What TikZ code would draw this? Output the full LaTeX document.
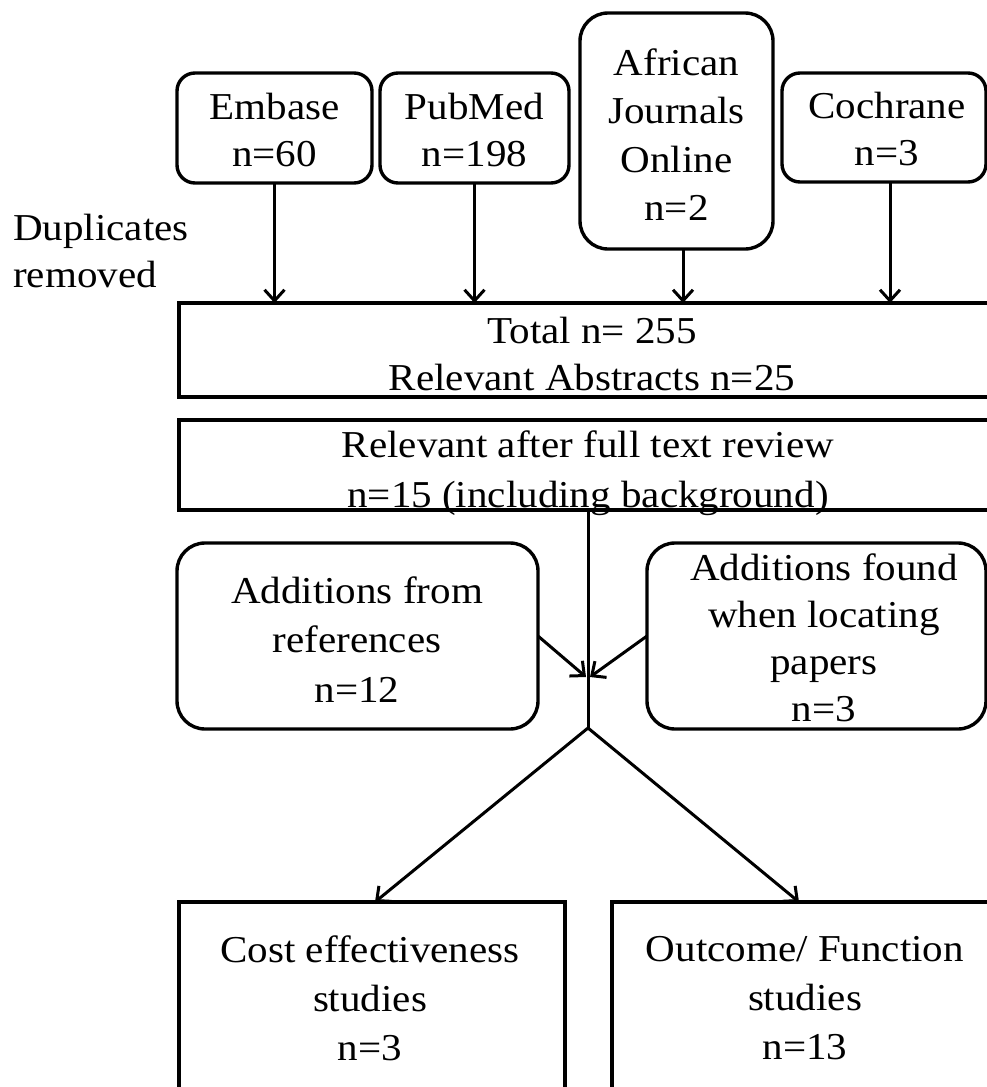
\documentclass[tikz,border=0pt]{standalone}
\usepackage{fontspec}
\setmainfont{Liberation Serif}[FakeStretch=1.08]
\usetikzlibrary{arrows.meta}
\begin{document}
\begin{tikzpicture}[x=1pt,y=-1pt,
  sqbox/.style={draw=black, line width=3.4pt, inner sep=0pt, outer sep=0pt},
  rbox/.style={sqbox, rounded corners=18pt},
  rboxbig/.style={sqbox, rounded corners=28pt},
  txt/.style={align=center, inner sep=0pt, font=\fontsize{38}{47}\selectfont},
  conn/.style={draw=black, line width=3pt},
  arr/.style={conn, -{Straight Barb[length=11pt,width=20pt]}}
]
\clip (0,0) rectangle (987,1087);

% source boxes
\node[rbox, minimum width=195pt, minimum height=110pt] (embase) at (274.5,128) {};
\node[txt] (embaseT) at (274.5,130) {Embase\\n=60};
\node[rbox, minimum width=189pt, minimum height=110pt] (pubmed) at (474.5,128) {};
\node[txt] (pubmedT) at (474.5,130) {PubMed\\n=198};
\node[rboxbig, minimum width=193pt, minimum height=236pt] (african) at (676.5,131) {};
\node[txt, font=\fontsize{38}{48.5}\selectfont] (africanT) at (676.5,134.5) {African\\Journals\\Online\\n=2};
\node[rbox, minimum width=204pt, minimum height=109pt] (cochrane) at (884,127.5) {};
\node[txt] (cochraneT) at (887,129) {Cochrane\\n=3};

\node[txt, align=left, anchor=west] (dup) at (13,251) {Duplicates\\removed};

% total / relevant
\node[sqbox, minimum width=818pt, minimum height=94pt] (total) at (588,350) {};
\node[txt] (totalT) at (592,353.5) {Total n= 255\\Relevant Abstracts n=25};
\node[sqbox, minimum width=818pt, minimum height=90pt] (relevant) at (588,465) {};
\node[txt, font=\fontsize{38}{50}\selectfont] (relevantT) at (588,473) {Relevant after full text review\\n=15 (including background)};

% additions
\node[rboxbig, minimum width=361pt, minimum height=186pt] (addref) at (357.5,636) {};
\node[txt, font=\fontsize{38}{49.5}\selectfont] (addrefT) at (357,639.5) {Additions from\\references\\n=12};
\node[rboxbig, minimum width=339pt, minimum height=186pt] (addfound) at (816.5,636) {};
\node[txt] (addfoundT) at (824,638) {Additions found\\when locating\\papers\\n=3};

% results
\node[sqbox, minimum width=386pt, minimum height=208pt] (cost) at (372,1006) {};
\node[txt, font=\fontsize{38}{49}\selectfont] (costT) at (370,998) {Cost effectiveness\\studies\\n=3};
\node[sqbox, minimum width=388pt, minimum height=208pt] (outcome) at (806,1006) {};
\node[txt, font=\fontsize{38}{49}\selectfont] (outcomeT) at (805,998) {Outcome/ Function\\studies\\n=13};

% connectors
\draw[arr] (embase.south) -- (embase.south |- total.north);
\draw[arr] (pubmed.south) -- (pubmed.south |- total.north);
\draw[arr] ([xshift=6.5pt]african.south) -- ([xshift=6.5pt]african.south |- total.north);
\draw[arr] ([xshift=6pt]cochrane.south) -- ([xshift=6pt]cochrane.south |- total.north);

\coordinate (junc) at (588,728);
\coordinate (meet) at (588,677);
\draw[conn] (relevant.south) -- (junc);
\draw[arr] (addref.east) -- ([xshift=-2pt]meet);
\draw[arr] (addfound.west) -- ([xshift=2pt]meet);
\draw[arr] (junc) -- ([xshift=3pt]cost.north);
\draw[arr] (junc) -- ([xshift=-7pt]outcome.north);
\end{tikzpicture}
\end{document}
